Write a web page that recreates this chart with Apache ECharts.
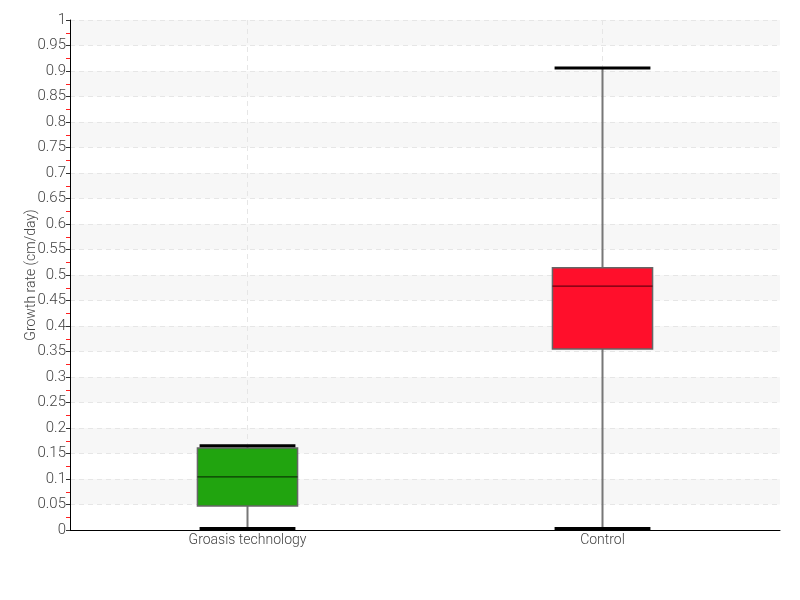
<!DOCTYPE html>
<html><head><meta charset="utf-8">
<script src="https://cdn.jsdelivr.net/npm/echarts@6/dist/echarts.min.js"></script>
<style>html,body{margin:0;padding:0;background:#fff}#c{width:800px;height:600px}</style>
</head><body><div id="c"></div>
<script>
var categories = ['Groasis technology', 'Control'];
// [low, q1, median, q3, high]
var groasis = [0.0, 0.047, 0.104, 0.161, 0.165];
var control = [0.0, 0.355, 0.478, 0.514, 0.906];
var fillColors = ['#21a40f', '#ff0f2b'];
var medianColors = ['#0b3a05', '#6a0010'];
var yTicksMax = 1;
var yInterval = 0.05;

var FONT = "Roboto, sans-serif";
var chart = echarts.init(document.getElementById('c'));
var seriesData = [groasis, control].map(function (v, i) { return [i].concat(v); });

chart.setOption({
  animation: false,
  backgroundColor: '#fff',
  grid: { left: 70, right: 20, top: 20, bottom: 70 },
  xAxis: {
    type: 'category', data: categories, boundaryGap: true,
    axisLine: { lineStyle: { color: '#000', width: 1 } },
    axisTick: { show: false },
    axisLabel: { color: '#444', fontFamily: FONT, fontWeight: 300, fontSize: 14, margin: 3 },
    splitLine: { show: false }
  },
  yAxis: {
    type: 'value', min: 0, max: yTicksMax, interval: yInterval,
    name: 'Growth rate (cm/day)', nameLocation: 'middle', nameGap: 32, nameMoveOverlap: false,
    nameTextStyle: { color: '#444', fontFamily: FONT, fontWeight: 300, fontSize: 14 },
    axisLine: { show: true, lineStyle: { color: '#000', width: 1 } },
    axisTick: { show: true, length: 4, lineStyle: { color: '#333' } },
    minorTick: { show: true, splitNumber: 2, length: 4, lineStyle: { color: '#ff2020', width: 1 } },
    axisLabel: { color: '#444', fontFamily: FONT, fontWeight: 300, fontSize: 15, margin: 4 },
    splitLine: { show: true, lineStyle: { color: '#e6e6e6', type: [5, 4] } },
    splitArea: { show: true, areaStyle: { color: ['rgba(255,255,255,0)', '#f7f7f7'] } }
  },
  series: [{
    type: 'custom',
    data: seriesData,
    encode: { x: 0, y: [1, 2, 3, 4, 5] },
    renderItem: function (params, api) {
      var i = api.value(0);
      var low = api.coord([i, api.value(1)]);
      var q1 = api.coord([i, api.value(2)]);
      var med = api.coord([i, api.value(3)]);
      var q3 = api.coord([i, api.value(4)]);
      var high = api.coord([i, api.value(5)]);
      var top = api.coord([i, yTicksMax]);
      var bottom = api.coord([i, 0]);
      var band = api.size([1, 0])[0];
      var bw = band * 0.282;
      var cw = band * 0.27;
      var x = low[0];
      return {
        type: 'group',
        children: [
          { type: 'line', shape: { x1: x, y1: top[1], x2: x, y2: bottom[1] },
            style: { stroke: '#e6e6e6', lineWidth: 1, lineDash: [5, 4] } },
          { type: 'line', shape: { x1: x, y1: high[1], x2: x, y2: low[1] },
            style: { stroke: '#777', lineWidth: 2 } },
          { type: 'rect', shape: { x: x - bw / 2, y: q3[1], width: bw, height: q1[1] - q3[1] },
            style: { fill: fillColors[i], stroke: '#666', lineWidth: 1.5 } },
          { type: 'line', shape: { x1: x - bw / 2, y1: med[1], x2: x + bw / 2, y2: med[1] },
            style: { stroke: medianColors[i], lineWidth: 1.2 } },
          { type: 'line', shape: { x1: x - cw / 2, y1: high[1], x2: x + cw / 2, y2: high[1] },
            style: { stroke: '#000', lineWidth: 3 } },
          { type: 'line', shape: { x1: x - cw / 2, y1: low[1] - 1.5, x2: x + cw / 2, y2: low[1] - 1.5 },
            style: { stroke: '#000', lineWidth: 3 } }
        ]
      };
    }
  }]
});
</script></body></html>
